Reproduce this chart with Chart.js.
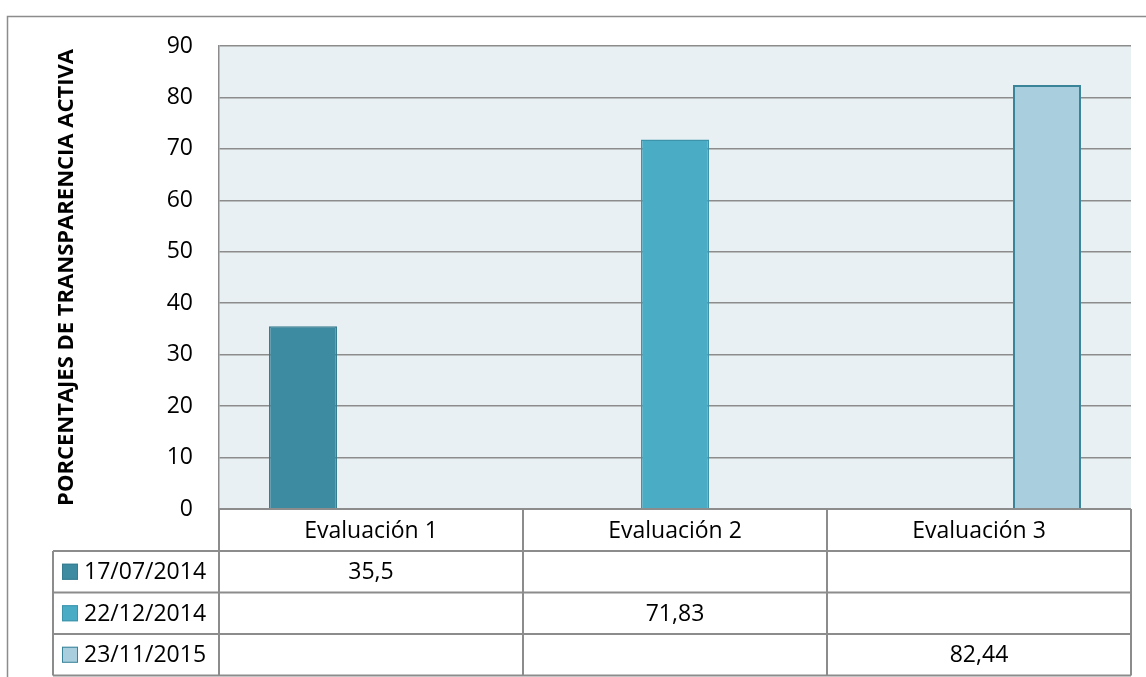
<!DOCTYPE html>
<html>
<head>
<meta charset="utf-8">
<script src="https://cdn.jsdelivr.net/npm/chart.js@4.4.0/dist/chart.umd.min.js"></script>
<style>
  html, body { margin: 0; padding: 0; background: #ffffff; }
  #wrap { width: 1146px; height: 677px; position: relative; }
</style>
</head>
<body>
<div id="wrap"><canvas id="evalChart" width="1146" height="677"></canvas></div>
<script>
// datos
const categorias = ['Evaluación 1', 'Evaluación 2', 'Evaluación 3'];
const fechas = ['17/07/2014', '22/12/2014', '23/11/2015'];
const serie1 = [35.5, null, null];
const serie2 = [null, 71.83, null];
const serie3 = [null, null, 82.44];
const ticksY = [0, 10, 20, 30, 40, 50, 60, 70, 80, 90];
const tituloY = 'PORCENTAJES DE TRANSPARENCIA ACTIVA';

const rellenos = ['#3D8BA0', '#4BACC6', '#A9CFDE'];
const bordes = ['#357C90', '#3D93AA', '#3A8499'];
const gris = '#8c8c8c';
const fuente = '"Open Sans", sans-serif';

function formatoValor(v) {
    return String(v).replace('.', ',');
}

// fondo del área de trazado y marco exterior
const fondoPlugin = {
    id: 'fondo',
    beforeDraw(chart) {
        const { ctx, chartArea } = chart;
        ctx.save();
        ctx.fillStyle = '#ffffff';
        ctx.fillRect(0, 0, chart.width, chart.height);
        ctx.fillStyle = '#E9F0F3';
        ctx.fillRect(chartArea.left, chartArea.top, chartArea.right - chartArea.left, chartArea.bottom - chartArea.top);

        ctx.strokeStyle = gris;
        ctx.lineWidth = 1.5;
        ctx.beginPath();
        ctx.moveTo(7.5, chart.height);
        ctx.lineTo(7.5, 16.5);
        ctx.lineTo(chart.width, 16.5);
        ctx.stroke();
        ctx.restore();
    }
};

// tabla de datos bajo el eje
const tablaPlugin = {
    id: 'tabla',
    afterDraw(chart) {
        const { ctx, chartArea } = chart;
        const xScale = chart.scales.x;
        const n = categorias.length;
        const anchoCat = (chartArea.right - chartArea.left) / n;
        const tablaIzq = 53;
        const altoCab = 42;
        const altoFila = 41.5;
        const yCab = chartArea.bottom;
        const yFilas = yCab + altoCab;
        const yFin = yFilas + altoFila * fechas.length;

        ctx.save();
        ctx.strokeStyle = gris;
        ctx.lineWidth = 2;

        // líneas horizontales
        ctx.beginPath();
        ctx.moveTo(chartArea.left, yCab);
        ctx.lineTo(chartArea.right, yCab);
        for (let r = 0; r <= fechas.length; r++) {
            const y = yFilas + r * altoFila;
            ctx.moveTo(tablaIzq, y);
            ctx.lineTo(chartArea.right, y);
        }
        // líneas verticales
        ctx.moveTo(tablaIzq, yFilas);
        ctx.lineTo(tablaIzq, yFin);
        for (let c = 0; c <= n; c++) {
            const x = chartArea.left + c * anchoCat;
            ctx.moveTo(x, yCab);
            ctx.lineTo(x, yFin);
        }
        ctx.stroke();

        ctx.fillStyle = '#000000';
        ctx.textBaseline = 'middle';
        ctx.font = '23px ' + fuente;

        // cabecera de categorías
        ctx.textAlign = 'center';
        categorias.forEach((cat, i) => {
            ctx.fillText(cat, xScale.getPixelForValue(i), yCab + altoCab / 2 + 1);
        });

        // filas con leyenda y valores
        chart.data.datasets.forEach((ds, r) => {
            const yc = yFilas + r * altoFila + altoFila / 2;
            ctx.fillStyle = ds.backgroundColor;
            ctx.fillRect(62, yc - 8, 16, 16);
            ctx.strokeStyle = ds.borderColor;
            ctx.lineWidth = 1;
            ctx.strokeRect(62.5, yc - 7.5, 15, 15);

            ctx.fillStyle = '#000000';
            ctx.textAlign = 'left';
            ctx.fillText(ds.label, 84, yc + 1);

            ctx.textAlign = 'center';
            ds.data.forEach((v, i) => {
                if (v === null) return;
                ctx.fillText(formatoValor(v), xScale.getPixelForValue(i), yc + 1);
            });
        });
        ctx.restore();
    }
};

const ctx = document.getElementById('evalChart').getContext('2d');
new Chart(ctx, {
    type: 'bar',
    data: {
        labels: categorias,
        datasets: [serie1, serie2, serie3].map((datos, i) => ({
            label: fechas[i],
            data: datos,
            backgroundColor: rellenos[i],
            borderColor: bordes[i],
            borderWidth: i === 2 ? 2 : 1.5,
            barPercentage: 1,
            categoryPercentage: 0.671
        }))
    },
    options: {
        responsive: false,
        animation: false,
        layout: {
            padding: { top: 46, right: 15, bottom: 168, left: 0 }
        },
        plugins: {
            legend: { display: false },
            tooltip: { enabled: false }
        },
        scales: {
            x: {
                display: false,
                grid: { display: false }
            },
            y: {
                min: 0,
                max: 90,
                afterFit(scale) { scale.width = 219; },
                afterBuildTicks(scale) {
                    scale.ticks = ticksY.map(v => ({ value: v }));
                },
                grid: {
                    color: gris,
                    lineWidth: 1.5,
                    drawTicks: false
                },
                border: { display: true, color: gris, width: 1.5 },
                ticks: {
                    padding: 26,
                    color: '#000000',
                    font: { family: fuente, size: 23 }
                },
                title: {
                    display: true,
                    text: tituloY,
                    color: '#000000',
                    padding: { top: 54, bottom: 0 },
                    font: { family: fuente, size: 22, weight: 'bold' }
                }
            }
        }
    },
    plugins: [fondoPlugin, tablaPlugin]
});
</script>
</body>
</html>
